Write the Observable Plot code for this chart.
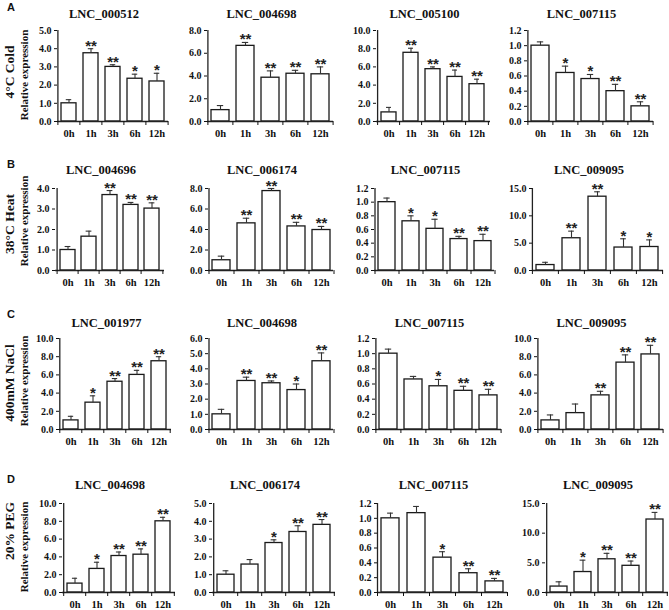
<!DOCTYPE html>
<html><head><meta charset="utf-8">
<script src="https://cdn.jsdelivr.net/npm/d3@7"></script>
<script src="https://cdn.jsdelivr.net/npm/@observablehq/plot@0.6"></script>
<style>
body{margin:0;background:#fff;}
#root{position:relative;width:669px;height:610px;overflow:hidden;font-family:"Liberation Serif","Times New Roman",serif;color:#111;}
.lab{position:absolute;white-space:nowrap;font-weight:bold;transform:translate(-50%,-50%) rotate(-90deg);line-height:1;}
.letter{position:absolute;font-family:"Liberation Sans",Arial,sans-serif;font-weight:bold;font-size:11px;line-height:1;}
#root svg{position:absolute;}
</style></head><body><div id="root"></div>
<script>
const times = ["0h","1h","3h","6h","12h"];
const stresses = ["4°C Cold","38°C Heat","400mM NaCl","20% PEG"];
const panelLetters = ["A","B","C","D"];
const yLabel = "Relative expression";

const coldGenes = ["LNC_000512","LNC_004698","LNC_005100","LNC_007115"];
const coldMeans = [[1.0,3.75,3.0,2.35,2.2],[1.0,6.65,3.85,4.2,4.15],[1.0,7.55,5.75,4.9,4.1],[1.0,0.64,0.56,0.40,0.20]];
const coldErrors = [[0.2,0.25,0.12,0.25,0.45],[0.4,0.3,0.6,0.3,0.65],[0.55,0.5,0.25,0.75,0.55],[0.05,0.09,0.06,0.09,0.06]];
const coldSig = [["","**","**","*","*"],["","**","**","**","**"],["","**","**","**","**"],["","*","*","**","**"]];
const coldYMax = [5,8,10,1.2];
const coldYStep = [1,2,2,0.2];

const heatGenes = ["LNC_004696","LNC_006174","LNC_007115","LNC_009095"];
const heatMeans = [[1.0,1.65,3.68,3.2,3.02],[1.0,4.6,7.75,4.3,3.95],[1.0,0.72,0.61,0.46,0.43],[1.0,5.9,13.5,4.2,4.3]];
const heatErrors = [[0.17,0.27,0.22,0.12,0.28],[0.4,0.5,0.25,0.4,0.35],[0.06,0.08,0.14,0.04,0.1],[0.5,1.3,0.9,1.6,1.3]];
const heatSig = [["","","**","**","**"],["","**","**","**","**"],["","*","*","**","**"],["","**","**","*","*"]];
const heatYMax = [4,8,1.2,15];
const heatYStep = [1,2,0.2,5];

const saltGenes = ["LNC_001977","LNC_004698","LNC_007115","LNC_009095"];
const saltMeans = [[1.0,2.95,5.25,6.0,7.5],[1.0,3.2,3.05,2.6,4.5],[1.0,0.66,0.57,0.51,0.45],[1.0,1.8,3.75,7.35,8.25]];
const saltErrors = [[0.45,0.75,0.35,0.5,0.5],[0.33,0.25,0.15,0.4,0.55],[0.06,0.04,0.09,0.06,0.08],[0.6,1.0,0.45,0.85,1.0]];
const saltSig = [["","*","**","**","**"],["","**","**","*","**"],["","","*","**","**"],["","","**","**","**"]];
const saltYMax = [10,6,1.2,10];
const saltYStep = [2,1,0.2,2];

const pegGenes = ["LNC_004698","LNC_006174","LNC_007115","LNC_009095"];
const pegMeans = [[1.0,2.65,4.1,4.25,8.0],[1.0,1.57,2.78,3.4,3.8],[1.0,1.07,0.47,0.26,0.15],[1.0,3.45,5.6,4.5,12.3]];
const pegErrors = [[0.6,0.75,0.45,0.65,0.45],[0.22,0.28,0.18,0.35,0.3],[0.07,0.09,0.08,0.06,0.04],[0.8,2.0,1.0,0.8,1.2]];
const pegSig = [["","*","**","**","**"],["","","*","**","**"],["","","*","**","**"],["","*","**","**","**"]];
const pegYMax = [10,5,1.2,15];
const pegYStep = [2,1,0.2,5];

// ---- layout (pixels) ----
const rowLayout = [
  {top:30, base:121, title:13, letterY:7, stressY:72, ylabY:75},
  {top:188, base:270, title:169, letterY:164, stressY:224, ylabY:221},
  {top:338, base:429, title:322, letterY:314, stressY:383, ylabY:381},
  {top:503, base:592, title:484, letterY:479, stressY:531, ylabY:547}
];
const colLayout = [
  [[57,168],[207,333],[376,490],[527,653]],
  [[55,164],[208,333],[374,494],[532,663]],
  [[59,171],[208,333],[375,501],[537,663]],
  [[62,175],[212,335],[377,507],[545,668]]
];

const rows = [
  {genes:coldGenes, means:coldMeans, errs:coldErrors, sig:coldSig, ymax:coldYMax, ystep:coldYStep},
  {genes:heatGenes, means:heatMeans, errs:heatErrors, sig:heatSig, ymax:heatYMax, ystep:heatYStep},
  {genes:saltGenes, means:saltMeans, errs:saltErrors, sig:saltSig, ymax:saltYMax, ystep:saltYStep},
  {genes:pegGenes, means:pegMeans, errs:pegErrors, sig:pegSig, ymax:pegYMax, ystep:pegYStep}
];

const root = document.getElementById("root");
const FONT = '"Liberation Serif","Times New Roman",serif';

function panel(gene, means, errs, sig, ymax, ystep, L, R, row) {
  const data = times.map((t, i) => ({t, mean: means[i], err: errs[i], sig: sig[i]}));
  const ml = 34, mr = 2, mt = 36, mb = 22;
  const fw = R - L, fh = row.base - row.top;
  const step = fw / times.length;
  const bw = step * 0.7;
  const capInset = Math.max(0, (bw - 6) / 2);
  const ticks = d3.range(0, ymax + ystep / 2, ystep);
  const svg = Plot.plot({
    width: fw + ml + mr, height: fh + mt + mb,
    marginLeft: ml, marginRight: mr, marginTop: mt, marginBottom: mb,
    style: {fontFamily: FONT, fontWeight: "bold", color: "#111", background: "transparent", overflow: "visible"},
    x: {type: "band", domain: times, paddingInner: 0.3, paddingOuter: 0.15, axis: null, label: null},
    y: {domain: [0, ymax], axis: null, label: null},
    marks: [
      Plot.barY(data, {x: "t", y: "mean", fill: "white", stroke: "#1a1a1a", strokeWidth: 1.3}),
      Plot.ruleX(data, {x: "t", y1: "mean", y2: d => d.mean + d.err, stroke: "#333", strokeWidth: 1.1}),
      Plot.tickY(data, {x: "t", y: d => d.mean + d.err, insetLeft: capInset, insetRight: capInset, stroke: "#333", strokeWidth: 1.1}),
      Plot.text(data, {x: "t", y: d => d.mean + d.err, text: "sig", lineAnchor: "bottom", dy: 2, fontSize: 15,
        fontFamily: "Liberation Sans", fill: "#222"}),
      Plot.ruleY([0], {stroke: "#222", strokeWidth: 1.3}),
      Plot.ruleX([times[0]], {dx: -step / 2, stroke: "#222", strokeWidth: 1.3}),
      Plot.axisY({ticks, tickFormat: d => d.toFixed(1), tickSize: 3, tickPadding: 3, fontSize: 10, label: null}),
      Plot.axisX({tickSize: 0, tickPadding: 8, fontSize: 10.5, label: null}),
      Plot.axisX({tickSize: 4, tickFormat: () => "", dx: -step / 2, label: null}),
      Plot.axisX([times[times.length - 1]], {tickSize: 4, tickFormat: () => "", dx: step / 2, label: null}),
      Plot.text([gene], {frameAnchor: "top", dy: row.title - row.top, dx: -9, fontSize: 12.5, lineAnchor: "middle", fill: "#111"})
    ]
  });
  svg.style.left = (L - ml) + "px";
  svg.style.top = (row.top - mt) + "px";
  root.appendChild(svg);
}

rows.forEach((r, ri) => {
  const lay = rowLayout[ri];
  r.genes.forEach((g, ci) => {
    const [L, R] = colLayout[ri][ci];
    panel(g, r.means[ci], r.errs[ci], r.sig[ci], r.ymax[ci], r.ystep[ci], L, R, lay);
  });
  const s = document.createElement("div");
  s.className = "lab"; s.textContent = stresses[ri];
  s.style.left = "10px"; s.style.top = lay.stressY + "px"; s.style.fontSize = "13.5px";
  root.appendChild(s);
  const y = document.createElement("div");
  y.className = "lab"; y.textContent = yLabel;
  y.style.left = "24px"; y.style.top = lay.ylabY + "px"; y.style.fontSize = "11px";
  root.appendChild(y);
  const l = document.createElement("div");
  l.className = "letter"; l.textContent = panelLetters[ri];
  l.style.left = "7px"; l.style.top = (lay.letterY - 5) + "px";
  root.appendChild(l);
});
</script></body></html>
